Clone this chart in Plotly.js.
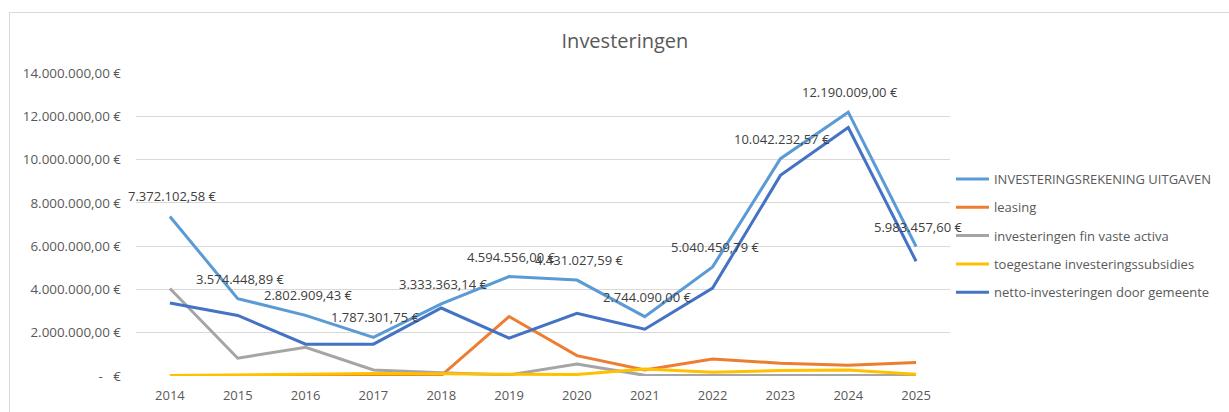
<!DOCTYPE html>
<html>
<head>
<meta charset="utf-8">
<script src="https://cdn.plot.ly/plotly-3.0.1.min.js"></script>
<style>
  html, body { margin: 0; padding: 0; background: #ffffff; }
  #wrap { position: relative; width: 1229px; height: 412px; overflow: hidden; background: #ffffff; }
  #frame { position: absolute; left: 9px; top: 12px; width: 1400px; height: 600px; border: 1px solid #d9d9d9; box-sizing: border-box; }
  #chart { position: absolute; left: 0; top: 0; width: 1229px; height: 412px; }
</style>
</head>
<body>
<div id="wrap">
  <div id="frame"></div>
  <div id="chart"></div>
</div>
<script>
const years = ['2014','2015','2016','2017','2018','2019','2020','2021','2022','2023','2024','2025'];

const uitgaven = [7372102.58, 3574448.89, 2802909.43, 1787301.75, 3333363.14, 4594556.00, 4431027.59, 2744090.00, 5040459.79, 10042232.57, 12190009.00, 5983457.60];
const leasing = [0, 0, 0, 20000, 20000, 2750000, 940000, 280000, 790000, 590000, 500000, 620000];
const finVasteActiva = [4040000, 820000, 1330000, 280000, 150000, 50000, 550000, 30000, 20000, 20000, 20000, 20000];
const subsidies = [20000, 50000, 80000, 120000, 100000, 70000, 70000, 320000, 170000, 250000, 280000, 80000];
const netto = [3370000, 2800000, 1470000, 1470000, 3140000, 1750000, 2900000, 2160000, 4060000, 9270000, 11480000, 5300000];

const uitgavenLabels = ['7.372.102,58 €','3.574.448,89 €','2.802.909,43 €','1.787.301,75 €','3.333.363,14 €','4.594.556,00 €','4.431.027,59 €','2.744.090,00 €','5.040.459,79 €','10.042.232,57 €','12.190.009,00 €','5.983.457,60 €'];

const seriesNames = ['INVESTERINGSREKENING UITGAVEN','leasing','investeringen fin vaste activa','toegestane investeringssubsidies','netto-investeringen door gemeente'];
const seriesColors = ['#5B9BD5','#ED7D31','#A5A5A5','#FFC000','#4472C4'];

const yTickVals = [0, 2000000, 4000000, 6000000, 8000000, 10000000, 12000000, 14000000];
const yTickText = ['-   €','2.000.000,00 €','4.000.000,00 €','6.000.000,00 €','8.000.000,00 €','10.000.000,00 €','12.000.000,00 €','14.000.000,00 €'];

const FONT = '"Open Sans", "Noto Sans", sans-serif';
const seriesData = [uitgaven, leasing, finVasteActiva, subsidies, netto];

const traces = seriesData.map((vals, i) => ({
  type: 'scatter',
  mode: 'lines',
  x: years,
  y: vals,
  name: seriesNames[i],
  legendgroup: 'g' + i,
  line: { color: seriesColors[i], width: 3 },
  hoverinfo: 'skip'
}));

const annotations = years.map((yr, i) => ({
  x: i,
  y: uitgaven[i],
  xref: 'x',
  yref: 'y',
  text: uitgavenLabels[i],
  showarrow: false,
  xshift: 2,
  yshift: 20,
  xanchor: 'center',
  yanchor: 'middle',
  font: { family: FONT, size: 13, color: '#404040' }
}));

const layout = {
  width: 1229,
  height: 412,
  paper_bgcolor: 'rgba(0,0,0,0)',
  plot_bgcolor: 'rgba(0,0,0,0)',
  margin: { l: 136, r: 279, t: 73, b: 36, pad: 0 },
  title: {
    text: 'Investeringen',
    x: 0.5085,
    xref: 'container',
    xanchor: 'center',
    y: 0.90,
    yref: 'container',
    yanchor: 'middle',
    font: { family: FONT, size: 20, color: '#595959' }
  },
  xaxis: {
    type: 'category',
    categoryorder: 'array',
    categoryarray: years,
    range: [-0.5, 11.5],
    showgrid: false,
    zeroline: false,
    showline: false,
    ticks: '',
    ticklabelstandoff: 10,
    tickfont: { family: FONT, size: 13, color: '#595959' }
  },
  yaxis: {
    range: [0, 14000000],
    tickmode: 'array',
    tickvals: yTickVals,
    ticktext: yTickText,
    showgrid: true,
    gridcolor: '#d9d9d9',
    gridwidth: 1,
    zeroline: false,
    showline: false,
    ticks: '',
    ticklabelstandoff: 14,
    tickfont: { family: FONT, size: 13.4, color: '#595959' }
  },
  showlegend: true,
  legend: {
    x: 1.0012,
    xanchor: 'left',
    y: 0.6995,
    yanchor: 'top',
    tracegroupgap: 8.4,
    itemwidth: 33,
    font: { family: FONT, size: 13, color: '#595959' },
    bgcolor: 'rgba(0,0,0,0)'
  },
  annotations: annotations
};

Plotly.newPlot('chart', traces, layout, { displayModeBar: false, staticPlot: true });
</script>
</body>
</html>
